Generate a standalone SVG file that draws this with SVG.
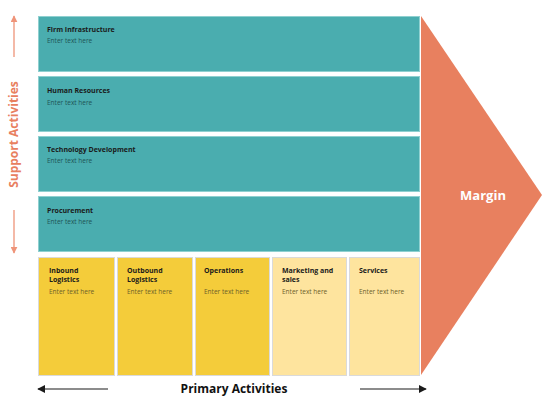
<svg xmlns="http://www.w3.org/2000/svg" width="544" height="407" viewBox="0 0 544 407">
<defs>
<style>
.teal{fill:#4AADAF;stroke:#8FD0D0;stroke-width:1}
.yel{fill:#F4CC3A;stroke:#DADADA;stroke-width:1}
.lyel{fill:#FEE49E;stroke:#DADADA;stroke-width:1}
.t{font-family:"Open Sans","Liberation Sans",sans-serif;font-size:7px;font-weight:700;fill:#1a1a1a}
.s1{font-family:"Open Sans","Liberation Sans",sans-serif;font-size:6.5px;fill:#1F5556}
.s2{font-family:"Open Sans","Liberation Sans",sans-serif;font-size:6.5px;fill:#6E5F2A}
.big{font-family:"Open Sans","Liberation Sans",sans-serif;font-weight:700}
</style>
<marker id="ah" viewBox="0 0 10 10" refX="9" refY="5" markerWidth="8" markerHeight="8" markerUnits="userSpaceOnUse" orient="auto"><path d="M0,0L10,5L0,10z" fill="#1a1a1a"/></marker>
<marker id="ao" viewBox="0 0 10 10" refX="9" refY="5" markerWidth="7" markerHeight="7" markerUnits="userSpaceOnUse" orient="auto"><path d="M0,0L10,5L0,10z" fill="#EF9479"/></marker>
</defs>
<g id="margin">
<polygon points="421,16 542,195 421,375" fill="#E8805F"/>
<text x="483" y="200" class="big" font-size="13" fill="#FFFFFF" text-anchor="middle">Margin</text>
</g>
<g id="firm"><rect class="teal" x="38.5" y="16.5" width="381" height="55"/><text class="t" x="47" y="31.5">Firm Infrastructure</text><text class="s1" x="47" y="42.5">Enter text here</text></g>
<g id="hr"><rect class="teal" x="38.5" y="76.5" width="381" height="55"/><text class="t" x="47" y="92.5">Human Resources</text><text class="s1" x="47" y="105">Enter text here</text></g>
<g id="tech"><rect class="teal" x="38.5" y="136.5" width="381" height="55"/><text class="t" x="47" y="151.5">Technology Development</text><text class="s1" x="47" y="162.5">Enter text here</text></g>
<g id="proc"><rect class="teal" x="38.5" y="196.5" width="381" height="55"/><text class="t" x="47" y="212.5">Procurement</text><text class="s1" x="47" y="223.5">Enter text here</text></g>
<g id="inbound"><rect class="yel" x="38.5" y="257.5" width="76" height="118"/><text class="t" x="49" y="272.5">Inbound</text><text class="t" x="49" y="281.5">Logistics</text><text class="s2" x="49" y="293.5">Enter text here</text></g>
<g id="outbound"><rect class="yel" x="117.5" y="257.5" width="75" height="118"/><text class="t" x="127" y="272.5">Outbound</text><text class="t" x="127" y="281.5">Logistics</text><text class="s2" x="127" y="293.5">Enter text here</text></g>
<g id="operations"><rect class="yel" x="195.5" y="257.5" width="74" height="118"/><text class="t" x="204" y="272.5">Operations</text><text class="s2" x="204" y="293.5">Enter text here</text></g>
<g id="marketing"><rect class="lyel" x="272.5" y="257.5" width="74" height="118"/><text class="t" x="282" y="272.5">Marketing and</text><text class="t" x="282" y="281.5">sales</text><text class="s2" x="282" y="293.5">Enter text here</text></g>
<g id="services"><rect class="lyel" x="349.5" y="257.5" width="70" height="118"/><text class="t" x="359" y="272.5">Services</text><text class="s2" x="359" y="293.5">Enter text here</text></g>
<g id="labels">
<text class="big" font-size="12" font-weight="600" fill="#E8805F" text-anchor="middle" transform="translate(18,134.5) rotate(-90)">Support Activities</text>
<text class="big" font-size="12" fill="#111" x="234" y="393" text-anchor="middle">Primary Activities</text>
</g>
<g id="connectors">
<line x1="14" y1="57" x2="14" y2="16" stroke="#EF9479" stroke-width="1.3" marker-end="url(#ao)"/>
<line x1="14" y1="210" x2="14" y2="253" stroke="#EF9479" stroke-width="1.3" marker-end="url(#ao)"/>
<line x1="108" y1="389" x2="38" y2="389" stroke="#1a1a1a" stroke-width="1.2" marker-end="url(#ah)"/>
<line x1="360" y1="389" x2="426" y2="389" stroke="#1a1a1a" stroke-width="1.2" marker-end="url(#ah)"/>
</g>
</svg>
